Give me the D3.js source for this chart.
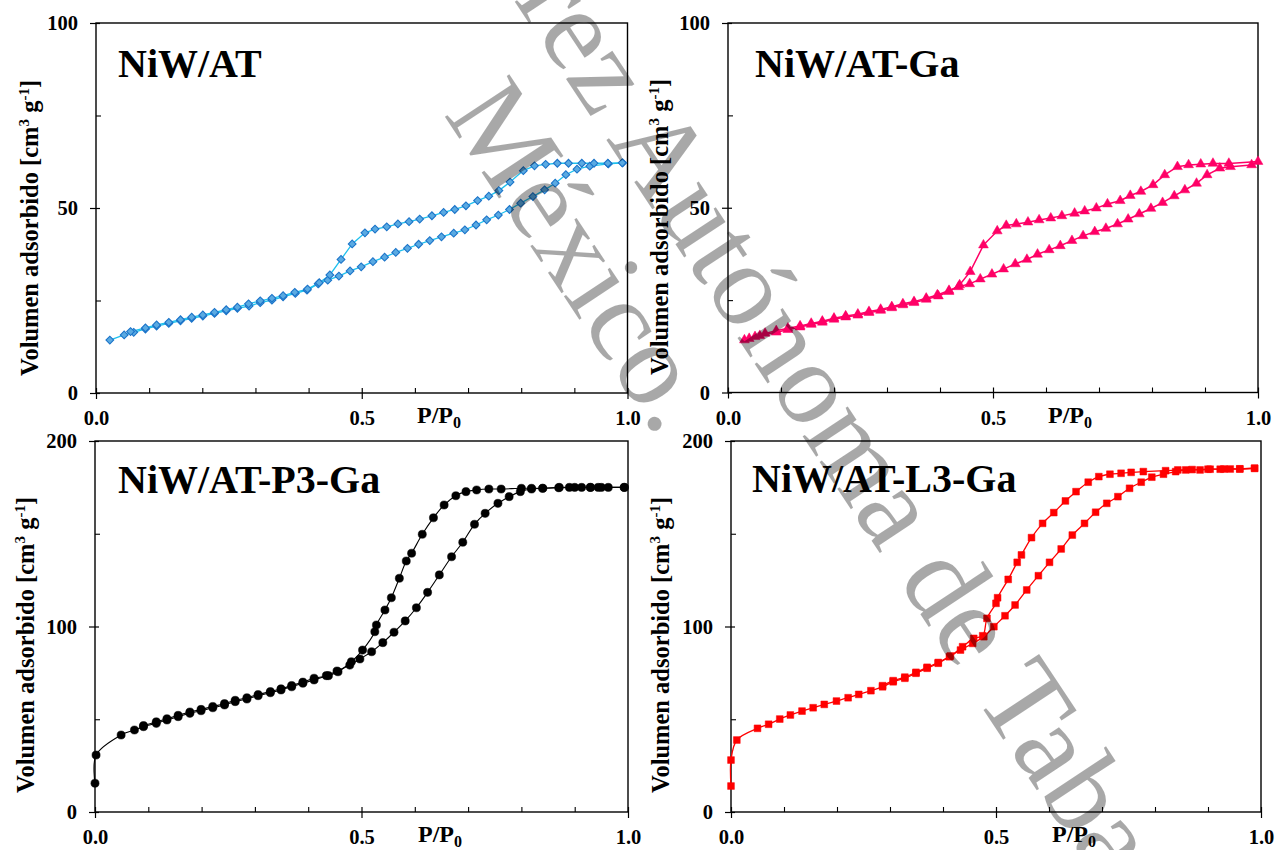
<!DOCTYPE html>
<html><head><meta charset="utf-8">
<script src="https://cdn.jsdelivr.net/npm/d3@7"></script>
<style>body{margin:0;background:#fff}svg{display:block}</style>
</head><body>
<svg id="chart" width="1277" height="850"></svg>
<script>
// ---------------- data ----------------
const panelTitles = ["NiW/AT", "NiW/AT-Ga", "NiW/AT-P3-Ga", "NiW/AT-L3-Ga"];
const xTickLabels = [0, 0.5, 1.0];
const xMinorTicks = [0.1, 0.2, 0.3, 0.4, 0.6, 0.7, 0.8, 0.9];
const yTicksTop = [0, 50, 100];
const yMinorTop = [25, 75];
const yTicksBottom = [0, 100, 200];
const yMinorBottom = [50, 150];
const yAxisTitle = ["Volumen adsorbido [cm", "3", " g", "-1", "]"];
const xAxisTitle = ["P/P", "0"];
const watermarkLines = ["Universidad Juárez Autónoma de Tabasco.", "México."];

// NiW/AT  [P/P0, V]
const atAds = [[0.026,14.3],[0.053,15.7],[0.071,16.4],[0.093,17.3],[0.114,18.1],[0.137,18.8],[0.159,19.5],[0.180,20.2],[0.201,20.8],[0.223,21.5],[0.245,22.2],[0.266,22.9],[0.288,23.5],[0.309,24.4],[0.331,25.1],[0.352,26.0],[0.375,26.9],[0.397,27.8],[0.418,29.5],[0.436,30.5],[0.457,31.6],[0.478,33.0],[0.499,34.1],[0.521,35.5],[0.543,36.7],[0.564,38.0],[0.586,39.1],[0.607,40.2],[0.628,41.2],[0.650,42.2],[0.673,43.2],[0.694,44.1],[0.715,45.4],[0.735,46.8],[0.757,48.1],[0.778,49.6],[0.799,51.3],[0.822,53.1],[0.844,54.9],[0.864,56.7],[0.884,59.0],[0.905,60.5],[0.929,61.3],[0.964,61.9],[0.991,62.2]];
const atDes = [[0.990,62.2],[0.963,62.1],[0.937,62.1],[0.914,62.1],[0.889,62.1],[0.868,62.1],[0.846,61.8],[0.825,61.4],[0.804,60.1],[0.779,57.0],[0.758,54.7],[0.739,53.2],[0.718,52.0],[0.696,50.6],[0.675,49.6],[0.654,48.8],[0.632,47.9],[0.609,47.0],[0.589,46.3],[0.568,45.7],[0.547,44.9],[0.525,44.3],[0.506,43.3],[0.482,40.3],[0.461,36.1],[0.440,31.9],[0.420,29.8],[0.398,28.1],[0.374,27.2],[0.352,26.3],[0.331,25.6],[0.309,24.9],[0.287,24.1],[0.266,23.2],[0.245,22.5],[0.223,21.8],[0.201,21.1],[0.180,20.5],[0.159,19.8],[0.137,19.1],[0.114,18.4],[0.093,17.6],[0.065,16.6]];

// NiW/AT-Ga
const gaAds = [[0.031,14.2],[0.051,15.1],[0.070,16.0],[0.091,16.7],[0.113,17.4],[0.136,18.0],[0.157,18.7],[0.178,19.3],[0.200,20.1],[0.222,20.7],[0.245,21.2],[0.266,21.9],[0.288,22.5],[0.309,23.2],[0.330,24.0],[0.351,24.6],[0.374,25.5],[0.395,26.4],[0.417,27.6],[0.435,28.6],[0.456,29.4],[0.476,30.7],[0.498,32.0],[0.520,33.4],[0.542,34.8],[0.564,36.0],[0.584,37.4],[0.606,38.6],[0.627,39.7],[0.649,41.1],[0.670,42.4],[0.692,43.5],[0.713,44.4],[0.735,45.6],[0.755,46.9],[0.776,48.3],[0.798,49.8],[0.820,51.4],[0.842,53.2],[0.862,54.8],[0.884,56.6],[0.904,58.9],[0.928,60.7],[0.948,61.1],[0.988,61.6]];
const gaDes = [[1.000,62.5],[0.945,62.0],[0.915,62.0],[0.892,61.8],[0.869,61.6],[0.848,61.1],[0.824,58.9],[0.802,56.2],[0.779,54.4],[0.759,53.3],[0.740,51.9],[0.716,51.0],[0.695,49.9],[0.673,49.1],[0.654,48.5],[0.630,47.8],[0.609,47.2],[0.587,46.7],[0.566,46.1],[0.544,45.6],[0.525,45.2],[0.508,43.7],[0.482,39.9],[0.457,32.7],[0.437,29.1],[0.417,27.3],[0.397,26.1],[0.374,25.2],[0.351,24.3],[0.330,23.7],[0.309,22.9],[0.288,22.2],[0.266,21.6],[0.245,20.9],[0.222,20.4],[0.200,19.8],[0.178,19.0],[0.157,18.4],[0.136,17.7],[0.113,17.0],[0.091,16.3],[0.060,15.4],[0.040,14.6]];

// NiW/AT-P3-Ga
const p3Ads = [[0.0,15.5],[0.002,30.7],[0.049,41.5],[0.074,44.2],[0.091,46.0],[0.115,47.8],[0.135,49.6],[0.156,51.4],[0.178,53.2],[0.199,54.6],[0.221,56.2],[0.243,57.7],[0.263,59.5],[0.285,60.9],[0.306,62.7],[0.329,64.3],[0.349,65.8],[0.369,67.5],[0.390,69.4],[0.411,71.2],[0.434,73.5],[0.454,76.0],[0.478,79.2],[0.497,82.5],[0.519,86.4],[0.540,91.3],[0.561,96.9],[0.582,103.0],[0.603,110.1],[0.624,118.4],[0.646,127.8],[0.669,137.6],[0.690,145.4],[0.712,155.1],[0.732,161.0],[0.756,166.4],[0.777,170.0],[0.798,172.7],[0.819,174.1],[0.840,174.5],[0.871,175.0],[0.890,175.0],[0.913,175.0],[0.929,175.0],[0.944,175.0],[0.963,175.0],[0.993,175.0]];
const p3Des = [[0.993,175.0],[0.950,175.0],[0.930,175.0],[0.900,175.0],[0.870,174.8],[0.840,174.5],[0.819,174.5],[0.800,174.5],[0.762,174.1],[0.739,174.1],[0.716,173.6],[0.696,172.7],[0.677,170.5],[0.655,165.5],[0.635,158.6],[0.614,149.7],[0.594,139.5],[0.584,135.3],[0.571,126.0],[0.556,115.5],[0.544,108.9],[0.528,100.8],[0.525,97.2],[0.502,87.3],[0.481,81.0],[0.456,75.6],[0.438,73.5],[0.411,72.1],[0.390,70.0],[0.369,68.2],[0.349,66.4],[0.329,64.9],[0.306,63.3],[0.285,61.6],[0.263,60.2],[0.243,58.4],[0.221,56.9],[0.199,55.3],[0.178,53.9],[0.156,52.1],[0.135,50.3],[0.115,48.6],[0.091,46.6]];

// NiW/AT-L3-Ga
const l3Ads = [[0.0,14.0],[0.0,28.0],[0.011,38.8],[0.050,45.1],[0.071,47.3],[0.092,50.1],[0.112,52.3],[0.134,54.4],[0.155,56.2],[0.176,58.0],[0.199,59.8],[0.221,61.6],[0.241,63.4],[0.264,65.4],[0.286,67.5],[0.306,70.2],[0.328,72.1],[0.349,74.8],[0.370,77.5],[0.391,80.2],[0.412,83.7],[0.433,87.3],[0.456,90.9],[0.477,94.5],[0.496,99.9],[0.517,105.8],[0.536,111.6],[0.558,119.7],[0.580,127.4],[0.601,134.6],[0.623,141.8],[0.644,149.3],[0.667,155.6],[0.688,161.6],[0.709,166.4],[0.730,170.0],[0.752,174.5],[0.774,177.8],[0.794,180.5],[0.816,182.1],[0.839,183.5],[0.858,184.4],[0.885,184.4],[0.904,184.8],[0.923,184.8],[0.942,184.9],[0.960,184.9],[0.988,185.3]];
const l3Des = [[0.988,185.3],[0.960,185.0],[0.930,184.9],[0.900,184.8],[0.870,184.6],[0.843,184.4],[0.820,184.0],[0.778,183.5],[0.755,183.1],[0.736,182.6],[0.715,182.1],[0.694,180.8],[0.674,177.8],[0.651,172.7],[0.631,167.7],[0.609,161.4],[0.588,155.6],[0.567,147.9],[0.548,138.6],[0.540,134.6],[0.523,125.4],[0.503,115.5],[0.500,112.5],[0.483,104.4],[0.475,95.0],[0.458,93.6],[0.437,89.1],[0.414,84.1],[0.391,80.6],[0.370,78.0],[0.349,75.3],[0.328,72.7],[0.306,70.8],[0.286,68.1]];

// ---------------- layout & style ----------------
const serif = '"Liberation Serif","Times New Roman",Times,serif';
const svg = d3.select('#chart');

const panels = [
  {title: panelTitles[0], series: [atAds, atDes], yMax: 100, yMajor: yTicksTop, yMinor: yMinorTop,
   box: {x0: 96, x1: 627.5, yT: 23, yB: 393}, titleX: 118, titleY: 77, yTitleX: 38, yTitleY: 228, xTitleX: 417,
   line: '#1ec0ee', lw: 1.3, fill: '#5aaae2', stroke: '#1c74c9', sym: 'diamond', curve: d3.curveLinear},
  {title: panelTitles[1], series: [gaAds, gaDes], yMax: 100, yMajor: yTicksTop, yMinor: yMinorTop,
   box: {x0: 728, x1: 1258, yT: 23, yB: 392.5}, titleX: 755, titleY: 77, yTitleX: 668, yTitleY: 227, xTitleX: 1048,
   line: '#ff0066', lw: 1.5, fill: '#ff0066', stroke: '#ff0066', sym: 'triangle', curve: d3.curveLinear},
  {title: panelTitles[2], series: [p3Ads, p3Des], yMax: 200, yMajor: yTicksBottom, yMinor: yMinorBottom,
   box: {x0: 95, x1: 628, yT: 441, yB: 812}, titleX: 118, titleY: 493, yTitleX: 34, yTitleY: 645, xTitleX: 418,
   line: '#000000', lw: 1.1, fill: '#000000', stroke: '#000000', sym: 'circle', curve: d3.curveCatmullRom.alpha(0.5)},
  {title: panelTitles[3], series: [l3Ads, l3Des], yMax: 200, yMajor: yTicksBottom, yMinor: yMinorBottom,
   box: {x0: 731, x1: 1261, yT: 441, yB: 812}, titleX: 752, titleY: 492, yTitleX: 669, yTitleY: 645, xTitleX: 1052,
   line: '#ff0000', lw: 1.3, fill: '#ff0000', stroke: '#ff0000', sym: 'square', curve: d3.curveCatmullRom.alpha(0.5)}
];

const symbolFor = {
  diamond: d3.symbol().type(d3.symbolSquare).size(30),
  triangle: d3.symbol().type(d3.symbolTriangle).size(42),
  circle: d3.symbol().type(d3.symbolCircle).size(52),
  square: d3.symbol().type(d3.symbolSquare).size(46)
};

panels.forEach(p => {
  const b = p.box;
  const x = d3.scaleLinear().domain([0, 1]).range([b.x0, b.x1]);
  const y = d3.scaleLinear().domain([0, p.yMax]).range([b.yB, b.yT]);
  const g = svg.append('g');

  // frame
  g.append('rect').attr('x', b.x0).attr('y', b.yT).attr('width', b.x1 - b.x0).attr('height', b.yB - b.yT)
    .attr('fill', 'none').attr('stroke', '#000').attr('stroke-width', 1.4);

  // x axis: major labelled ticks
  const xa = g.append('g').attr('transform', `translate(0,${b.yB})`)
    .call(d3.axisBottom(x).tickValues(xTickLabels).tickFormat(d3.format('.1f')).tickSizeOuter(0).tickSize(6).tickPadding(11.5));
  xa.select('.domain').remove();
  xa.selectAll('line').attr('y1', -5).attr('y2', 6).attr('stroke-width', 1.2);
  xa.selectAll('text').style('font-family', serif).style('font-size', '20.5px').style('font-weight', 'bold').attr('fill', '#000');
  // minor inside ticks
  const xm = g.append('g').attr('transform', `translate(0,${b.yB})`)
    .call(d3.axisBottom(x).tickValues(xMinorTicks).tickSize(-5).tickFormat(''));
  xm.select('.domain').remove();
  xm.selectAll('line').attr('stroke-width', 1.1);

  // y axis
  const ya = g.append('g').attr('transform', `translate(${b.x0},0)`)
    .call(d3.axisLeft(y).tickValues(p.yMajor).tickSizeOuter(0).tickSize(6).tickPadding(12));
  ya.select('.domain').remove();
  ya.selectAll('line').attr('x1', 4).attr('x2', -6).attr('stroke-width', 1.2);
  ya.selectAll('text').style('font-family', serif).style('font-size', '20.5px').style('font-weight', 'bold').attr('fill', '#000');
  const ym = g.append('g').attr('transform', `translate(${b.x0},0)`)
    .call(d3.axisLeft(y).tickValues(p.yMinor).tickSize(-5).tickFormat(''));
  ym.select('.domain').remove();
  ym.selectAll('line').attr('stroke-width', 1.1);

  // lines
  const lineGen = d3.line().x(d => x(d[0])).y(d => y(d[1])).curve(p.curve);
  p.series.forEach(s => {
    g.append('path').datum(s).attr('d', lineGen).attr('fill', 'none')
      .attr('stroke', p.line).attr('stroke-width', p.lw);
  });
  // markers
  p.series.forEach(s => {
    g.append('g').selectAll('path').data(s).join('path')
      .attr('d', symbolFor[p.sym])
      .attr('transform', d => `translate(${x(d[0])},${y(d[1])})` + (p.sym === 'diamond' ? ' rotate(45)' : ''))
      .attr('fill', p.fill).attr('stroke', p.stroke).attr('stroke-width', p.sym === 'diamond' ? 1.1 : 0.5);
  });

  // panel title
  g.append('text').attr('x', p.titleX).attr('y', p.titleY).text(p.title)
    .style('font-family', serif).style('font-size', '40px').style('font-weight', 'bold');

  // y axis title
  const yt = g.append('text').attr('transform', `translate(${p.yTitleX},${p.yTitleY}) rotate(-90)`)
    .attr('text-anchor', 'middle').style('font-family', serif).style('font-size', '24.5px').style('font-weight', 'bold');
  yt.append('tspan').text(yAxisTitle[0]);
  yt.append('tspan').text(yAxisTitle[1]).attr('dy', -9).style('font-size', '15px');
  yt.append('tspan').text(yAxisTitle[2]).attr('dy', 9);
  yt.append('tspan').text(yAxisTitle[3]).attr('dy', -9).style('font-size', '15px');
  yt.append('tspan').text(yAxisTitle[4]).attr('dy', 9);

  // x axis title
  const xt = g.append('text').attr('x', p.xTitleX).attr('y', b.yB + 30)
    .style('font-family', serif).style('font-size', '24px').style('font-weight', 'bold');
  xt.append('tspan').text(xAxisTitle[0]);
  xt.append('tspan').text(xAxisTitle[1]).attr('dy', 5).style('font-size', '16px');
});

// watermark
const wmAngle = 56.5;
const wm = svg.append('g').attr('fill', '#000').attr('fill-opacity', 0.34)
  .style('font-family', serif).style('font-size', '118px');
const wm1 = wm.append('text').text(watermarkLines[0]);
const idx = watermarkLines[0].indexOf('de Tabasco');
const pos = wm1.node().getStartPositionOfChar(idx);
wm1.attr('transform', `translate(897,579) rotate(${wmAngle}) translate(${-pos.x},0)`);
wm.append('text').text(watermarkLines[1]).attr('transform', `translate(443,114) rotate(${wmAngle})`);
</script>
</body></html>
